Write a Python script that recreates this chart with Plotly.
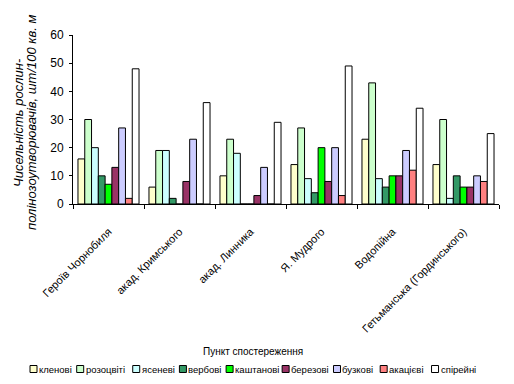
import plotly.graph_objects as go

categories = ["Героїв Чорнобиля", "акад. Кримського", "акад. Линника",
              "Я. Мудрого", "Водопійна", "Гетьманська (Гординського)"]

series_names = ["кленові", "розоцвіті", "ясеневі", "вербові", "каштанові",
                "березові", "бузкові", "акацієві", "спірейні"]

klenovi   = [16, 6, 10, 14, 23, 14]
rozotsviti = [30, 19, 23, 27, 43, 30]
yasenevi  = [20, 19, 18, 9, 9, 2]
verbovi   = [10, 2, 0, 4, 6, 10]
kashtanovi = [7, 0, 0, 20, 10, 6]
berezovi  = [13, 8, 3, 8, 10, 6]
buzkovi   = [27, 23, 13, 20, 19, 10]
akatsiievi = [2, 0, 0, 3, 12, 8]
spireini  = [48, 36, 29, 49, 34, 25]

series_values = [klenovi, rozotsviti, yasenevi, verbovi, kashtanovi,
                 berezovi, buzkovi, akatsiievi, spireini]

colors = ["#FFFFCC", "#CCFFCC", "#CCFFFF", "#339966", "#00FF00",
          "#993366", "#CCCCFF", "#FF8080", "#FFFFFF"]

FONT = "Liberation Sans, Arial, sans-serif"

fig = go.Figure()
for name, vals, col in zip(series_names, series_values, colors):
    fig.add_trace(go.Bar(
        name=name, x=categories, y=vals,
        marker=dict(color=col, line=dict(color="black", width=1)),
        showlegend=False,
    ))

# plot area in pixels
L, R, T, B = 73, 15, 35, 180
W, H = 514, 384
pw, ph = W - L - R, H - T - B

def px_to_paper_x(px):
    return (px - L) / pw

def py_to_paper_y(py):
    return (H - B - py) / ph

# compact Excel-style legend along the bottom
legend_y = 369
sq = 7
char_w = 4.67
lx = 30
for name, col in zip(series_names, colors):
    fig.add_shape(type="rect", xref="paper", yref="paper",
                  x0=px_to_paper_x(lx), x1=px_to_paper_x(lx + sq),
                  y0=py_to_paper_y(legend_y + sq / 2), y1=py_to_paper_y(legend_y - sq / 2),
                  fillcolor=col, line=dict(color="black", width=1))
    fig.add_annotation(xref="paper", yref="paper",
                       x=px_to_paper_x(lx + sq + 1), y=py_to_paper_y(legend_y),
                       text=name, showarrow=False, xanchor="left", yanchor="middle",
                       borderpad=0,
                       font=dict(family=FONT, size=9.5, color="black"))
    lx += sq + 2 + len(name) * char_w + 5

# x-axis title
fig.add_annotation(xref="paper", yref="paper",
                   x=px_to_paper_x(253), y=py_to_paper_y(351),
                   text="Пункт спостереження", showarrow=False,
                   xanchor="center", yanchor="middle",
                   font=dict(family=FONT, size=10, color="black"))

# y-axis title (two lines, italic)
for txt, cx in [("Чисельність рослин-", 18), ("полінозоутворювачів, шт/100 кв. м", 31)]:
    fig.add_annotation(xref="paper", yref="paper",
                       x=px_to_paper_x(cx), y=py_to_paper_y(123),
                       text="<i>" + txt + "</i>",
                       showarrow=False, textangle=-90,
                       xanchor="center", yanchor="middle",
                       font=dict(family=FONT, size=13, color="black"))

fig.update_layout(
    width=W, height=H,
    margin=dict(l=L, r=R, t=T, b=B, pad=0),
    paper_bgcolor="white", plot_bgcolor="white",
    barmode="group", bargap=0.14, bargroupgap=0,
    font=dict(family=FONT, size=11, color="black"),
    showlegend=False,
)
fig.update_xaxes(
    showline=True, linecolor="black", linewidth=1,
    ticks="outside", ticklen=4, tickcolor="black", tickson="boundaries",
    tickangle=-45, tickfont=dict(size=11), showgrid=False,
    ticklabelstandoff=16,
)
fig.update_yaxes(
    range=[0, 60], dtick=10, showline=True, linecolor="black", linewidth=1,
    ticks="outside", ticklen=3, tickcolor="black", showgrid=False,
    tickfont=dict(size=12), zeroline=False, ticklabelstandoff=3,
)

fig.write_html("out.html", config={"displayModeBar": False},
               post_script="document.body.style.margin='0';")
